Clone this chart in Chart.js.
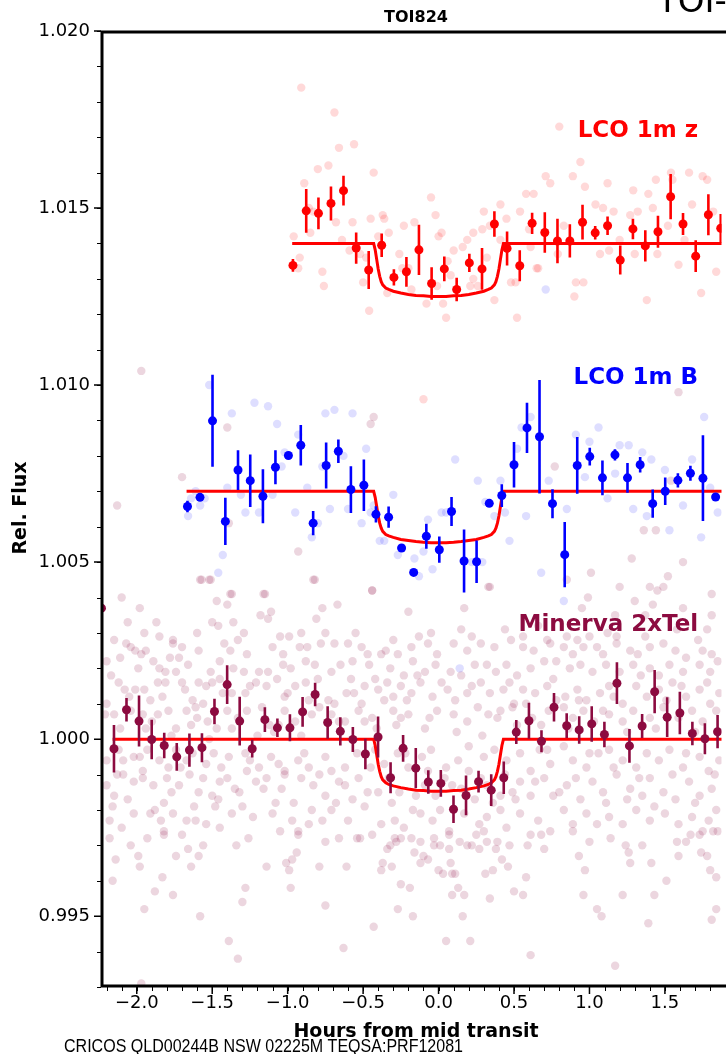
<!DOCTYPE html>
<html>
<head>
<meta charset="utf-8">
<script src="https://cdn.jsdelivr.net/npm/chart.js@4"></script>
<style>
  body { margin: 0; background: #fff; }
  canvas { display: block; }
</style>
</head>
<body>
<canvas id="grafico" width="726" height="1054"></canvas>
<script>
// binned points (hours from mid transit, rel. flux, error)
const zBinX = [-0.965,-0.877,-0.796,-0.713,-0.630,-0.546,-0.463,-0.377,-0.296,-0.213,-0.130,-0.046,0.038,0.120,0.204,0.288,0.370,0.454,0.538,0.620,0.704,0.788,0.870,0.954,1.038,1.120,1.204,1.288,1.370,1.454,1.538,1.620,1.704,1.788,1.870];
const zBinY = [1.01338,1.01492,1.01485,1.01513,1.01549,1.01387,1.01325,1.01395,1.01304,1.01320,1.01382,1.01287,1.01328,1.01270,1.01345,1.01328,1.01455,1.01386,1.01337,1.01457,1.01431,1.01407,1.01407,1.01460,1.01430,1.01450,1.01353,1.01441,1.01393,1.01433,1.01532,1.01455,1.01364,1.01481,1.01443];
const zBinE = [0.00018,0.00062,0.00045,0.00048,0.00042,0.00044,0.00054,0.00033,0.00023,0.00042,0.00071,0.00046,0.00035,0.00033,0.00026,0.00059,0.00036,0.00048,0.00044,0.00030,0.00057,0.00063,0.00047,0.00049,0.00019,0.00026,0.00041,0.00029,0.00044,0.00045,0.00064,0.00031,0.00045,0.00058,0.00040];

const bBinX = [-1.664,-1.581,-1.498,-1.413,-1.329,-1.248,-1.164,-1.081,-0.995,-0.913,-0.831,-0.745,-0.664,-0.581,-0.495,-0.415,-0.331,-0.245,-0.165,-0.081,0.005,0.086,0.169,0.252,0.336,0.419,0.500,0.586,0.669,0.755,0.836,0.919,1.002,1.086,1.169,1.252,1.336,1.419,1.502,1.586,1.669,1.752,1.836];
const bBinY = [1.00657,1.00683,1.00899,1.00615,1.00760,1.00730,1.00686,1.00768,1.00801,1.00830,1.00610,1.00773,1.00813,1.00705,1.00717,1.00635,1.00627,1.00540,1.00471,1.00573,1.00535,1.00643,1.00503,1.00501,1.00666,1.00688,1.00775,1.00879,1.00854,1.00665,1.00521,1.00773,1.00798,1.00738,1.00803,1.00738,1.00775,1.00665,1.00700,1.00731,1.00751,1.00737,1.00684];
const bBinE = [0.00016,0.00005,0.00130,0.00067,0.00056,0.00074,0.00076,0.00048,0.00005,0.00057,0.00034,0.00065,0.00033,0.00066,0.00073,0.00023,0.00030,0.00005,0.00005,0.00035,0.00037,0.00041,0.00089,0.00060,0.00005,0.00032,0.00064,0.00071,0.00160,0.00041,0.00092,0.00080,0.00025,0.00049,0.00016,0.00042,0.00022,0.00040,0.00039,0.00020,0.00021,0.00121,0.00008];

const mBinX = [-2.234,-2.151,-2.068,-1.985,-1.901,-1.818,-1.735,-1.651,-1.568,-1.485,-1.401,-1.318,-1.235,-1.151,-1.068,-0.985,-0.901,-0.818,-0.735,-0.651,-0.568,-0.485,-0.401,-0.318,-0.235,-0.151,-0.068,0.015,0.099,0.182,0.265,0.349,0.432,0.515,0.599,0.682,0.765,0.849,0.932,1.015,1.099,1.182,1.265,1.349,1.432,1.515,1.599,1.682,1.765,1.849];
const mBinY = [1.00370,0.99973,1.00083,1.00051,0.99999,0.99982,0.99950,0.99969,0.99976,1.00078,1.00154,1.00051,0.99973,1.00055,1.00032,1.00032,1.00077,1.00126,1.00047,1.00022,0.99999,0.99958,1.00006,0.99891,0.99974,0.99918,0.99879,0.99875,0.99802,0.99841,0.99880,0.99856,0.99891,1.00020,1.00052,0.99994,1.00090,1.00038,1.00026,1.00043,1.00013,1.00158,0.99981,1.00037,1.00134,1.00062,1.00074,1.00016,1.00001,1.00021];
const mBinE = [0.00030,0.00067,0.00033,0.00072,0.00056,0.00036,0.00039,0.00047,0.00041,0.00036,0.00055,0.00069,0.00025,0.00035,0.00026,0.00038,0.00042,0.00033,0.00046,0.00040,0.00035,0.00043,0.00058,0.00044,0.00038,0.00057,0.00033,0.00038,0.00039,0.00056,0.00031,0.00045,0.00046,0.00034,0.00051,0.00031,0.00040,0.00035,0.00039,0.00050,0.00036,0.00059,0.00048,0.00034,0.00061,0.00056,0.00060,0.00033,0.00044,0.00047];

// transit model
const modelX = [-0.43,-0.42,-0.41,-0.40,-0.39,-0.38,-0.37,-0.35,-0.33,-0.30,-0.25,-0.20,-0.15,-0.10,-0.05,0.00,0.05,0.10,0.15,0.20,0.25,0.30,0.33,0.35,0.37,0.38,0.39,0.40,0.41,0.42,0.43];
const zModel = [1.01400,1.01382,1.01355,1.01328,1.01307,1.01292,1.01283,1.01274,1.01270,1.01265,1.01260,1.01256,1.01253,1.01252,1.01250,1.01250,1.01250,1.01252,1.01253,1.01256,1.01260,1.01265,1.01270,1.01274,1.01283,1.01292,1.01307,1.01328,1.01355,1.01382,1.01400];
const bModel = [1.00700,1.00683,1.00657,1.00630,1.00610,1.00596,1.00587,1.00578,1.00574,1.00570,1.00564,1.00561,1.00558,1.00556,1.00555,1.00555,1.00555,1.00556,1.00558,1.00561,1.00564,1.00570,1.00574,1.00578,1.00587,1.00596,1.00610,1.00630,1.00657,1.00683,1.00700];
const mModel = [1.00000,0.99982,0.99956,0.99929,0.99909,0.99894,0.99885,0.99877,0.99872,0.99868,0.99863,0.99859,0.99856,0.99855,0.99853,0.99853,0.99853,0.99855,0.99856,0.99859,0.99863,0.99868,0.99872,0.99877,0.99885,0.99894,0.99909,0.99929,0.99956,0.99982,1.00000];
const zSpan = [-0.97, 1.95];
const bSpan = [-1.67, 1.95];
const mSpan = [-2.16, 1.95];

// unbinned points [hours, flux]
const zRaw = [[-0.80,1.0161],[-0.73,1.0162],[-0.43,1.0160],[-0.89,1.0157],[-0.96,1.0142],[-0.92,1.0136],[-0.93,1.0133],[-0.85,1.0143],[-0.86,1.0150],[-0.83,1.0149],[-0.68,1.0146],[-0.57,1.0146],[-0.64,1.0141],[-0.59,1.0138],[-0.52,1.0137],[-0.48,1.0136],[-0.77,1.0132],[-0.76,1.0128],[-0.50,1.0129],[-0.45,1.0147],[-0.37,1.0148],[-0.36,1.0147],[-0.33,1.0143],[-0.40,1.0142],[-0.23,1.0145],[-0.16,1.0146],[-0.05,1.0153],[-0.02,1.0148],[0.02,1.0143],[0.00,1.0142],[-0.26,1.0137],[-0.24,1.0133],[-0.20,1.0133],[-0.18,1.0127],[-0.34,1.0126],[-0.08,1.0123],[-0.01,1.0128],[0.03,1.0123],[0.05,1.0119],[0.08,1.0131],[0.06,1.0135],[0.10,1.0138],[0.16,1.0139],[0.19,1.0141],[0.23,1.0143],[0.29,1.0144],[0.30,1.0149],[0.32,1.0136],[0.34,1.0145],[0.41,1.0151],[0.45,1.0147],[0.41,1.0141],[0.26,1.0128],[0.23,1.0130],[0.21,1.0128],[0.37,1.0124],[0.48,1.0129],[0.51,1.0129],[0.54,1.0149],[0.58,1.0154],[0.63,1.0154],[0.60,1.0144],[0.65,1.0133],[-0.46,1.0121],[0.52,1.0119],[0.80,1.0173],[0.94,1.0163],[0.71,1.0159],[0.74,1.0157],[0.89,1.0159],[0.97,1.0156],[1.12,1.0157],[1.29,1.0155],[1.39,1.0154],[1.44,1.0158],[1.54,1.0160],[1.55,1.0158],[1.66,1.0160],[1.75,1.0159],[1.78,1.0158],[1.04,1.0151],[1.09,1.0150],[1.16,1.0149],[1.27,1.0148],[1.32,1.0149],[1.42,1.0150],[1.68,1.0151],[1.82,1.0149],[1.52,1.0145],[1.63,1.0141],[0.83,1.0145],[0.79,1.0137],[1.07,1.0137],[1.13,1.0138],[1.20,1.0141],[1.30,1.0137],[1.45,1.0137],[1.59,1.0134],[1.84,1.0132],[0.91,1.0129],[0.96,1.0129],[0.90,1.0125],[1.74,1.0126],[1.38,1.0124],[0.66,1.0133],[0.61,1.0139],[-0.91,1.0184],[-0.69,1.0177],[-0.66,1.0167],[-0.56,1.0168],[-0.10,1.0096]];

const bRaw = [[-1.52,1.0100],[-1.22,1.0095],[-1.13,1.0094],[-1.37,1.0092],[-1.07,1.0089],[-0.75,1.0092],[-0.69,1.0093],[-0.57,1.0092],[-0.93,1.0086],[-1.02,1.0081],[-1.04,1.0077],[-0.77,1.0077],[-0.63,1.0080],[-0.48,1.0082],[-1.40,1.0071],[-1.31,1.0069],[-1.61,1.0070],[-1.64,1.0068],[-1.55,1.0068],[-1.58,1.0066],[-1.66,1.0063],[-1.28,1.0064],[-1.19,1.0064],[-1.10,1.0069],[-0.95,1.0064],[-0.87,1.0071],[-0.80,1.0061],[-0.84,1.0057],[-0.72,1.0065],[-0.60,1.0065],[-0.51,1.0061],[-0.45,1.0064],[-0.43,1.0066],[-0.30,1.0069],[-0.39,1.0056],[-0.36,1.0056],[-0.27,1.0052],[-1.43,1.0052],[-1.46,1.0047],[-0.16,1.0051],[-0.13,1.0046],[-0.10,1.0053],[-0.07,1.0062],[-0.04,1.0048],[0.02,1.0064],[0.05,1.0064],[0.11,1.0079],[0.26,1.0073],[0.22,1.0050],[0.29,1.0050],[0.31,1.0067],[0.41,1.0073],[0.44,1.0064],[0.47,1.0056],[0.37,1.0063],[0.52,1.0082],[0.61,1.0091],[0.55,1.0088],[0.73,1.0073],[0.58,1.0063],[0.85,1.0065],[0.91,1.0086],[1.00,1.0084],[1.06,1.0088],[0.97,1.0074],[1.12,1.0068],[1.17,1.0075],[1.20,1.0083],[1.26,1.0083],[1.35,1.0081],[1.41,1.0079],[1.29,1.0065],[1.38,1.0063],[1.50,1.0076],[1.62,1.0066],[1.68,1.0079],[1.76,1.0091],[1.80,1.0071],[1.85,1.0064],[1.53,1.0059],[1.74,1.0057],[0.68,1.0047],[0.83,1.0039],[0.71,1.0127],[0.14,1.0020]];

const mRaw = [
[-2.07,1.0027],[-2.04,1.0026],[-2.01,1.0025],[-1.97,1.0024],[-1.94,1.0025],[-1.76,1.0027],[-1.70,1.0026],[-1.59,1.0025],[-1.42,1.0027],[-1.38,1.0025],[-1.27,1.0024],[-1.10,1.0026],[-1.03,1.0024],[-0.92,1.0026],[-0.87,1.0026],[-0.78,1.0027],[-0.69,1.0027],[-0.60,1.0027],[-0.51,1.0026],[-0.47,1.0024],[-0.38,1.0024],[-0.35,1.0025],[-0.27,1.0024],[-0.18,1.0026],
[-2.11,1.0023],[-2.20,1.0022],[-1.89,1.0022],[-1.78,1.0023],[-1.72,1.0023],[-1.66,1.0021],[-1.51,1.0019],[-1.45,1.0022],[-1.36,1.0020],[-1.29,1.0019],[-1.19,1.0019],[-1.13,1.0019],[-1.03,1.0021],[-0.98,1.0020],[-0.88,1.0022],[-0.82,1.0021],[-0.71,1.0019],[-0.65,1.0021],[-0.57,1.0022],[-0.46,1.0021],[-0.42,1.0017],[-0.32,1.0020],[-0.23,1.0018],[-0.17,1.0022],[-1.85,1.0020],[-1.81,1.0019],[-1.74,1.0019],
[-2.20,1.0010],[-2.12,1.0016],[-2.08,1.0014],[-2.01,1.0014],[-1.95,1.0014],[-1.91,1.0011],[-1.86,1.0016],[-1.81,1.0016],[-1.68,1.0014],[-1.63,1.0011],[-1.59,1.0016],[-1.54,1.0015],[-1.50,1.0016],[-1.45,1.0017],[-1.37,1.0013],[-1.28,1.0013],[-1.21,1.0016],[-1.14,1.0015],[-1.07,1.0017],[-1.02,1.0012],[-0.95,1.0015],[-0.88,1.0016],[-0.73,1.0011],[-0.69,1.0010],[-0.61,1.0013],[-0.56,1.0013],[-0.49,1.0015],[-0.40,1.0014],[-0.36,1.0011],[-0.30,1.0012],[-0.25,1.0015],[-0.18,1.0013],
[-2.21,1.0007],[-2.15,1.0007],[-2.11,1.0003],[-2.04,1.0008],[-1.96,1.0007],[-1.94,1.0003],[-1.86,1.0007],[-1.79,1.0008],[-1.74,1.0003],[-1.67,1.0008],[-1.61,1.0009],[-1.60,1.0006],[-1.53,1.0005],[-1.47,1.0003],[-1.40,1.0008],[-1.37,1.0003],[-1.27,1.0008],[-1.20,1.0001],[-1.12,1.0004],[-1.09,1.0002],[-1.02,1.0008],[-0.95,1.0005],[-0.84,1.0007],[-0.79,1.0009],[-0.71,1.0007],[-0.62,1.0005],[-0.53,1.0008],[-0.49,1.0005],[-0.41,1.0003],[-0.30,1.0008],[-0.25,1.0006],[-0.20,1.0007],
[-2.20,0.9994],[-2.12,0.9997],[-2.09,0.9994],[-2.02,0.9995],[-1.96,0.9991],[-1.93,0.9997],[-1.85,0.9994],[-1.79,0.9992],[-1.74,0.9997],[-1.67,0.9994],[-1.63,0.9996],[-1.54,0.9993],[-1.49,0.9996],[-1.44,0.9992],[-1.39,0.9995],[-1.28,0.9996],[-1.19,0.9992],[-1.11,0.9995],[-1.06,0.9993],[-1.02,0.9991],[-0.93,0.9994],[-0.86,0.9992],[-0.75,0.9995],[-0.71,0.9991],[-0.62,0.9992],[-0.54,0.9996],[-0.42,0.9997],[-0.36,0.9993],[-0.27,0.9996],[-0.20,0.9992],
[-2.20,0.9987],[-2.15,0.9984],[-2.09,0.9990],[-2.02,0.9988],[-1.96,0.9989],[-1.89,0.9987],[-1.82,0.9982],[-1.77,0.9985],[-1.72,0.9987],[-1.65,0.9990],[-1.59,0.9985],[-1.50,0.9984],[-1.45,0.9988],[-1.40,0.9989],[-1.32,0.9985],[-1.27,0.9991],[-1.21,0.9988],[-1.16,0.9986],[-1.08,0.9982],[-1.02,0.9990],[-0.91,0.9989],[-0.83,0.9987],[-0.75,0.9984],[-0.68,0.9982],[-0.62,0.9987],[-0.53,0.9989],[-0.47,0.9985],[-0.40,0.9985],[-0.31,0.9982],[-0.26,0.9985],
[-2.16,0.9981],[-2.18,0.9977],[-2.02,0.9979],[-1.91,0.9979],[-1.84,0.9977],[-1.76,0.9979],[-1.67,0.9977],[-1.61,0.9977],[-1.54,0.9976],[-1.48,0.9981],[-1.37,0.9979],[-1.30,0.9981],[-1.23,0.9978],[-1.10,0.9979],[-0.97,0.9977],[-0.93,0.9974],[-0.84,0.9980],[-0.77,0.9977],[-0.71,0.9980],[-0.60,0.9977],[-0.49,0.9981],[-0.38,0.9976],[-0.29,0.9977],[-0.23,0.9975],[-0.17,0.9980],[-1.82,0.9974],
[-0.07,1.0027],[-0.01,1.0024],[0.10,1.0027],[0.19,1.0025],[0.28,1.0027],[0.37,1.0026],[0.48,1.0028],[0.56,1.0026],[0.63,1.0025],[0.74,1.0027],[0.83,1.0026],[0.89,1.0024],[0.96,1.0026],[1.05,1.0026],[1.09,1.0024],[1.18,1.0027],[1.27,1.0025],[1.32,1.0024],[1.40,1.0026],[1.49,1.0027],[1.57,1.0025],[1.64,1.0023],[1.75,1.0025],[1.81,1.0024],
[-0.09,1.0019],[-0.02,1.0021],[0.08,1.0019],[0.15,1.0018],[0.24,1.0021],[0.32,1.0021],[0.38,1.0019],[0.45,1.0021],[0.52,1.0018],[0.61,1.0020],[0.70,1.0022],[0.78,1.0022],[0.87,1.0020],[0.94,1.0021],[1.02,1.0019],[1.11,1.0021],[1.20,1.0019],[1.29,1.0021],[1.40,1.0020],[1.46,1.0018],[1.53,1.0021],[1.62,1.0019],[1.73,1.0021],[1.80,1.0019],[1.85,1.0022],
[-0.12,1.0016],[-0.04,1.0012],[0.06,1.0014],[0.11,1.0011],[0.19,1.0013],[0.28,1.0016],[0.34,1.0013],[0.43,1.0014],[0.50,1.0010],[0.56,1.0014],[0.64,1.0013],[0.72,1.0015],[0.78,1.0011],[0.84,1.0012],[0.92,1.0014],[0.98,1.0011],[1.07,1.0013],[1.13,1.0015],[1.22,1.0010],[1.31,1.0015],[1.38,1.0012],[1.46,1.0014],[1.55,1.0016],[1.64,1.0012],[1.73,1.0014],[1.80,1.0010],[1.86,1.0013],
[-0.09,1.0003],[-0.01,1.0008],[0.10,1.0007],[0.19,1.0005],[0.26,1.0009],[0.33,1.0007],[0.39,1.0006],[0.49,1.0009],[0.52,1.0004],[0.62,1.0006],[0.73,1.0008],[0.83,1.0009],[0.89,1.0006],[0.96,1.0008],[1.09,1.0008],[1.13,1.0007],[1.22,1.0005],[1.29,1.0008],[1.40,1.0006],[1.49,1.0009],[1.59,1.0006],[1.68,1.0008],[1.75,1.0005],[1.84,1.0008],
[-0.11,0.9995],[-0.05,0.9997],[0.05,0.9992],[0.13,0.9994],[0.20,0.9998],[0.30,0.9995],[0.37,0.9997],[0.45,0.9994],[0.54,0.9996],[0.61,0.9991],[0.67,0.9997],[0.74,0.9993],[0.83,0.9998],[0.89,0.9994],[0.98,0.9992],[1.06,0.9996],[1.13,0.9997],[1.22,0.9994],[1.31,0.9992],[1.38,0.9996],[1.46,0.9994],[1.53,0.9997],[1.62,0.9992],[1.73,0.9995],[1.79,0.9991],[1.86,0.9994],
[-0.09,0.9987],[-0.02,0.9984],[0.04,0.9989],[0.15,0.9986],[0.24,0.9983],[0.32,0.9987],[0.41,0.9984],[0.49,0.9985],[0.54,0.9988],[0.61,0.9984],[0.70,0.9989],[0.76,0.9984],[0.85,0.9987],[0.94,0.9983],[1.02,0.9988],[1.09,0.9985],[1.18,0.9990],[1.27,0.9986],[1.35,0.9984],[1.40,0.9989],[1.49,0.9985],[1.57,0.9983],[1.66,0.9988],[1.73,0.9984],[1.81,0.9986],
[-0.12,0.9979],[-0.04,0.9977],[0.07,0.9974],[0.17,0.9979],[0.27,0.9976],[0.32,0.9978],[0.41,0.9980],[0.45,0.9975],[0.54,0.9979],[0.66,0.9977],[0.74,0.9974],[0.83,0.9980],[0.89,0.9976],[0.98,0.9979],[1.05,0.9976],[1.13,0.9978],[1.22,0.9976],[1.31,0.9980],[1.40,0.9977],[1.50,0.9979],[1.59,0.9976],[1.68,0.9978],[1.75,0.9974],[1.84,0.9980],
[-2.18,0.9972],[-2.14,0.9966],[-2.16,0.9960],[-2.04,0.9970],[-1.99,0.9967],[-1.98,0.9964],[-1.95,0.9952],[-1.88,0.9957],[-1.83,0.9961],[-1.82,0.9973],[-1.74,0.9967],[-1.76,0.9956],[-1.66,0.9969],[-1.64,0.9964],[-1.59,0.9967],[-1.56,0.9970],[-1.58,0.9950],[-1.39,0.9943],[-1.34,0.9970],[-1.33,0.9938],[-1.30,0.9954],[-1.28,0.9958],[-1.14,0.9964],[-1.01,0.9965],[-0.99,0.9963],[-0.97,0.9966],[-0.98,0.9958],[-0.94,0.9968],[-0.93,0.9973],[-0.79,0.9964],[-0.75,0.9971],[-0.75,0.9953],[-0.61,0.9964],[-0.63,0.9941],[-0.54,0.9972],[-0.52,0.9972],[-0.43,0.9947],[-0.38,0.9963],[-0.37,0.9965],[-0.34,0.9969],[-0.32,0.9970],[-0.29,0.9972],[-0.28,0.9971],[-0.25,0.9972],[-0.31,0.9964],[-0.25,0.9959],[-0.27,0.9952],[-0.19,0.9958],[-0.17,0.9950],[-0.18,0.9972],[-0.16,0.9968],[-1.97,0.9931],
[-0.12,0.9971],[-0.12,0.9965],[-0.07,0.9966],[-0.03,0.9972],[-0.03,0.9970],[0.01,0.9970],[0.07,0.9969],[0.07,0.9973],[0.08,0.9965],[0.00,0.9963],[0.03,0.9962],[0.09,0.9962],[0.11,0.9962],[0.13,0.9958],[0.09,0.9956],[0.17,0.9956],[0.16,0.9950],[0.05,0.9943],[0.21,0.9943],[0.19,0.9970],[0.22,0.9970],[0.25,0.9973],[0.30,0.9974],[0.27,0.9969],[0.32,0.9971],[0.39,0.9971],[0.38,0.9969],[0.31,0.9962],[0.36,0.9963],[0.34,0.9955],[0.46,0.9964],[0.47,0.9970],[0.50,0.9957],[0.56,0.9956],[0.58,0.9961],[0.59,0.9970],[0.61,0.9973],[0.68,0.9973],[0.61,0.9939],[0.89,0.9974],[0.97,0.9963],[1.00,0.9971],[0.96,0.9956],[1.05,0.9952],[1.08,0.9950],[1.17,0.9936],[1.22,0.9956],[1.24,0.9970],[1.26,0.9968],[1.27,0.9965],[1.39,0.9948],[1.41,0.9965],[1.43,0.9956],[1.51,0.9960],[1.59,0.9967],[1.64,0.9971],[1.67,0.9973],[1.73,0.9973],[1.74,0.9968],[1.78,0.9967],[1.80,0.9963],[1.84,0.9961],[1.84,0.9952],[1.81,0.9949],[1.82,0.9974],[1.85,0.9974],
[-1.58,1.0045],[-1.51,1.0045],[-0.82,1.0045],[-2.10,1.0040],[-1.98,1.0037],[-2.06,1.0033],[-1.87,1.0033],[-1.47,1.0039],[-1.40,1.0038],[-1.37,1.0041],[-1.15,1.0041],[-1.50,1.0033],[-1.46,1.0032],[-1.36,1.0033],[-1.18,1.0035],[-1.13,1.0034],[-1.11,1.0036],[-0.81,1.0034],[-0.77,1.0037],[-0.67,1.0038],[-0.44,1.0042],[-0.20,1.0036],[0.17,1.0037],[0.15,1.0031],[0.34,1.0043],[0.85,1.0045],[1.01,1.0047],[0.99,1.0040],[0.95,1.0037],[1.20,1.0043],[1.30,1.0039],[1.40,1.0043],[1.45,1.0042],[1.49,1.0043],[1.52,1.0046],[1.37,1.0035],[1.42,1.0038],[1.62,1.0037],[1.81,1.0041],[1.81,1.0035],[1.17,1.0035],[1.78,1.0031],[1.62,1.0050],[1.28,1.0051],[-1.95,1.0030],[-1.76,1.0028],[-1.29,1.0030],[-0.99,1.0029],[-0.91,1.0030],[-0.13,1.0029],[0.56,1.0029],[0.72,1.0028],[0.85,1.0029],[1.00,1.0029],[1.18,1.0029],
[-1.70,1.0074],[-1.40,1.0088],[-1.39,1.0061],[-1.57,1.0045],[-1.52,1.0045],[-1.38,1.0041],[-1.16,1.0041],[-0.93,1.0053],[-0.83,1.0045],[-0.43,1.0091],[-0.45,1.0089],[-0.44,1.0042],[0.33,1.0043],[1.59,1.0098],[0.77,1.0077],[1.36,1.0059],[1.44,1.0059],[1.54,1.0073],[-1.97,1.0104],[-2.13,1.0066],
[-2.17,1.0018],[-2.05,1.0012],[-1.99,1.0020],[-1.90,1.0005],[-1.83,1.0012],[-1.77,1.0001],[-1.70,1.0016],[-1.64,1.0004],[-1.56,1.0010],[-1.52,1.0000],[-1.43,1.0013],[-1.33,1.0006],[-1.25,1.0015],[-1.17,1.0009],[-1.06,1.0004],[-1.00,1.0013],[-0.91,1.0001],[-0.86,1.0011],[-0.80,1.0017],[-0.66,1.0005],[-0.58,1.0017],[-0.51,1.0010],[-0.44,1.0006],[-0.34,1.0016],[-0.28,1.0004],[-0.21,1.0011],[-0.14,1.0018],[-0.06,1.0006],[0.02,1.0016],[0.12,1.0002],[0.22,1.0015],[0.29,1.0001],[0.41,1.0008],[0.47,1.0016],[0.58,1.0010],[0.68,1.0004],[0.76,1.0017],[0.86,1.0003],[0.93,1.0011],[1.03,1.0005],[1.16,1.0012],[1.25,1.0002],[1.34,1.0018],[1.44,1.0003],[1.51,1.0011],[1.61,1.0015],[1.70,1.0002],[1.78,1.0016],
[-2.13,0.9990],[-2.06,0.9983],[-1.98,0.9995],[-1.88,0.9980],[-1.80,0.9989],[-1.71,0.9992],[-1.62,0.9981],[-1.56,0.9989],[-1.46,0.9983],[-1.35,0.9986],[-1.25,0.9994],[-1.14,0.9989],[-1.04,0.9986],[-0.96,0.9982],[-0.89,0.9996],[-0.79,0.9990],[-0.66,0.9988],[-0.57,0.9983],[-0.45,0.9992],[-0.33,0.9989],[-0.22,0.9996],[-0.15,0.9984],[-0.07,0.9991],[0.01,0.9980],[0.09,0.9987],[0.20,0.9991],[0.28,0.9989],[0.36,0.9982],[0.44,0.9990],[0.51,0.9983],[0.64,0.9988],[0.72,0.9997],[0.80,0.9985],[0.91,0.9989],[1.00,0.9996],[1.11,0.9982],[1.16,0.9992],[1.25,0.9983],[1.33,0.9989],[1.43,0.9981],[1.55,0.9990],[1.64,0.9996],[1.70,0.9982],[1.83,0.9990],
[-2.10,0.9975],[-1.93,0.9972],[-1.70,0.9973],[-1.45,0.9975],[-1.26,0.9972],[-1.05,0.9974],[-0.86,0.9976],[-0.66,0.9972],[-0.44,0.9973],[-0.10,0.9967],[0.14,0.9971],[0.42,0.9966],[0.70,0.9969],[0.93,0.9967],[1.14,0.9972],[1.35,0.9970],[1.58,0.9971],[1.79,0.9977],
[-2.15,1.0028],[-1.85,1.0029],[-1.60,1.0030],[-1.33,1.0028],[-1.05,1.0029],[-0.75,1.0030],[-0.55,1.0030],[-0.30,1.0028],[-0.05,1.0030],[0.22,1.0029],[0.44,1.0031],[0.66,1.0032],[0.92,1.0028],[1.12,1.0030],[1.37,1.0029],[1.58,1.0031],[1.72,1.0028]
];

const xTicks = [-2.0, -1.5, -1.0, -0.5, 0.0, 0.5, 1.0, 1.5];
const yTicks = [0.995, 1.000, 1.005, 1.010, 1.015, 1.020];

const corZ = '#ff0000';
const corB = '#0000ff';
const corM = '#8c0b40';

function pontos(lista) {
    return lista.map(p => ({ x: p[0], y: p[1] }));
}

function barras(xs, ys, es) {
    let d = [];
    for (let i = 0; i < xs.length; i++) {
        d.push({ x: xs[i], y: ys[i] - es[i] });
        d.push({ x: xs[i], y: ys[i] + es[i] });
        d.push({ x: xs[i], y: null });
    }
    return d;
}

function modelo(span, valores) {
    let d = [{ x: span[0], y: valores[0] }];
    for (let i = 0; i < modelX.length; i++) d.push({ x: modelX[i], y: valores[i] });
    d.push({ x: span[1], y: valores[valores.length - 1] });
    return d;
}

function bins(xs, ys) {
    return xs.map((x, i) => ({ x: x, y: ys[i] }));
}

function menos(v) {
    return (v < -1e-9 ? '\u2212' : '') + Math.abs(v).toFixed(1);
}

const moldura = {
    id: 'moldura',
    afterDraw(chart) {
        const ctx = chart.ctx;
        const a = chart.chartArea;
        const x = chart.scales.x;
        const y = chart.scales.y;
        ctx.save();
        ctx.strokeStyle = '#000';

        // minor ticks
        ctx.lineWidth = 1;
        ctx.beginPath();
        for (let k = 993; k <= 1020; k++) {
            const py = Math.round(y.getPixelForValue(k / 1000)) + 0.5;
            ctx.moveTo(a.left - 4, py);
            ctx.lineTo(a.left, py);
        }
        for (let k = -22; k <= 18; k++) {
            const px = Math.round(x.getPixelForValue(k / 10)) + 0.5;
            ctx.moveTo(px, a.bottom);
            ctx.lineTo(px, a.bottom + 4);
        }
        ctx.stroke();

        // major ticks
        ctx.lineWidth = 1.5;
        ctx.beginPath();
        yTicks.forEach(v => {
            const py = y.getPixelForValue(v);
            ctx.moveTo(a.left - 7, py);
            ctx.lineTo(a.left, py);
        });
        xTicks.forEach(v => {
            const px = x.getPixelForValue(v);
            ctx.moveTo(px, a.bottom);
            ctx.lineTo(px, a.bottom + 7);
        });
        ctx.stroke();

        // axis lines
        ctx.lineWidth = 3;
        ctx.beginPath();
        ctx.moveTo(chart.width + 5, a.top + 1);
        ctx.lineTo(a.left + 1, a.top + 1);
        ctx.lineTo(a.left + 1, a.bottom - 1);
        ctx.lineTo(chart.width + 5, a.bottom - 1);
        ctx.stroke();

        // texts
        ctx.fillStyle = '#000';
        ctx.textAlign = 'center';
        ctx.textBaseline = 'alphabetic';
        ctx.font = 'bold 16px "DejaVu Sans"';
        ctx.fillText('TOI824', 416, 22);

        ctx.font = 'bold 19px "DejaVu Sans"';
        ctx.fillText('Hours from mid transit', 416, 1037);

        ctx.save();
        ctx.translate(26, 508);
        ctx.rotate(-Math.PI / 2);
        ctx.fillText('Rel. Flux', 0, 0);
        ctx.restore();

        ctx.textAlign = 'left';
        ctx.font = '34px "DejaVu Sans"';
        ctx.fillText('TOI-824', 657, 12);

        ctx.font = '19px "Liberation Sans Narrow", "Liberation Sans"';
        const txt = 'CRICOS QLD00244B NSW 02225M TEQSA:PRF12081';
        const w = ctx.measureText(txt).width;
        ctx.save();
        ctx.translate(64, 1052);
        ctx.scale(399 / w, 1);
        ctx.fillText(txt, 0, 0);
        ctx.restore();

        // instrument labels
        ctx.textAlign = 'right';
        ctx.textBaseline = 'middle';
        ctx.font = 'bold 23px "DejaVu Sans"';
        const rx = x.getPixelForValue(1.72);
        ctx.fillStyle = corZ;
        ctx.fillText('LCO 1m z', rx, y.getPixelForValue(1.01718));
        ctx.fillStyle = corB;
        ctx.fillText('LCO 1m B', rx, y.getPixelForValue(1.01021));
        ctx.fillStyle = corM;
        ctx.fillText('Minerva 2xTel', rx, y.getPixelForValue(1.00321));
        ctx.restore();
    }
};

const rawStyle = (dados, cor, ordem) => ({
    data: pontos(dados),
    showLine: false,
    pointRadius: 4.2,
    pointBorderWidth: 0,
    pointBackgroundColor: cor,
    backgroundColor: cor,
    order: ordem
});

const binStyle = (xs, ys, cor) => ({
    data: bins(xs, ys),
    showLine: false,
    pointRadius: 4.5,
    pointBorderWidth: 0,
    pointBackgroundColor: cor,
    backgroundColor: cor,
    order: 1
});

const barStyle = (xs, ys, es, cor) => ({
    data: barras(xs, ys, es),
    showLine: true,
    spanGaps: false,
    borderColor: cor,
    borderWidth: 2.6,
    pointRadius: 0,
    order: 2
});

const modelStyle = (span, valores) => ({
    data: modelo(span, valores),
    showLine: true,
    borderColor: '#ff0000',
    borderWidth: 3,
    pointRadius: 0,
    tension: 0,
    order: 3
});

const ctx = document.getElementById('grafico');

new Chart(ctx, {
    type: 'scatter',
    data: {
        datasets: [
            rawStyle(mRaw, 'rgba(140,11,64,0.17)', 8),
            rawStyle(zRaw, 'rgba(255,0,0,0.15)', 7),
            rawStyle(bRaw, 'rgba(0,0,255,0.13)', 6),
            modelStyle(zSpan, zModel),
            modelStyle(bSpan, bModel),
            modelStyle(mSpan, mModel),
            barStyle(zBinX, zBinY, zBinE, corZ),
            barStyle(bBinX, bBinY, bBinE, corB),
            barStyle(mBinX, mBinY, mBinE, corM),
            binStyle(zBinX, zBinY, corZ),
            binStyle(bBinX, bBinY, corB),
            binStyle(mBinX, mBinY, corM)
        ]
    },
    options: {
        responsive: false,
        animation: false,
        devicePixelRatio: 1,
        layout: { padding: { top: 31, left: 0, right: 0, bottom: 0 } },
        plugins: {
            legend: { display: false },
            tooltip: { enabled: false },
            title: { display: false }
        },
        scales: {
            x: {
                type: 'linear',
                min: -2.237,
                max: 1.875,
                grid: { display: false, drawTicks: false },
                border: { display: false },
                ticks: {
                    stepSize: 0.5,
                    includeBounds: false,
                    autoSkip: false,
                    maxRotation: 0,
                    padding: 6,
                    color: '#000',
                    font: { family: 'DejaVu Sans', size: 18 },
                    callback: v => menos(v)
                },
                afterFit: s => { s.height = 67; }
            },
            y: {
                type: 'linear',
                min: 0.993,
                max: 1.020,
                grid: { display: false, drawTicks: false },
                border: { display: false },
                ticks: {
                    stepSize: 0.005,
                    includeBounds: false,
                    autoSkip: false,
                    padding: 11,
                    color: '#000',
                    font: { family: 'DejaVu Sans', size: 18 },
                    callback: v => v.toFixed(3)
                },
                afterFit: s => { s.width = 101; }
            }
        }
    },
    plugins: [moldura]
});
</script>
</body>
</html>
